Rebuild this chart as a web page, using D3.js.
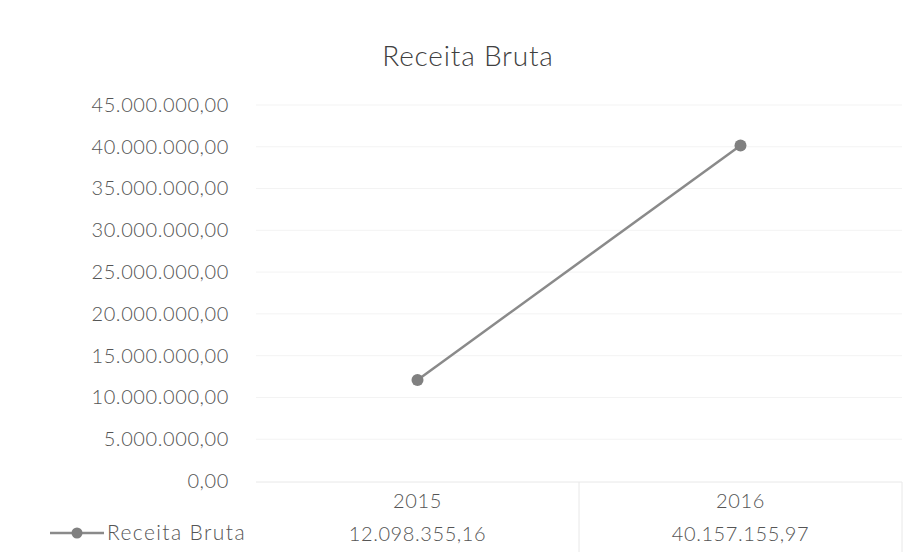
<!DOCTYPE html>
<html lang="pt">
<head>
    <meta charset="UTF-8">
    <title>Receita Bruta</title>
    <script src="https://cdn.jsdelivr.net/npm/d3@7"></script>
    <style>
        body { margin: 0; background: #fff; }
        text { font-family: Lato, "Open Sans", sans-serif; font-weight: 300; fill: #555; }
    </style>
</head>
<body>
    <script>
        // data
        var categories = ['2015', '2016'];
        var receitaBruta = [12098355.16, 40157155.97];
        var yTicks = [0, 5000000, 10000000, 15000000, 20000000, 25000000, 30000000, 35000000, 40000000, 45000000];
        var seriesName = 'Receita Bruta';
        var title = 'Receita Bruta';

        var w = 923;
        var h = 560;
        var plotLeft = 256, plotRight = 902, plotTop = 105, plotBottom = 481;

        // pt-BR style number: 12.098.355,16
        var fmt = d3.formatLocale({decimal: ',', thousands: '.', grouping: [3], currency: ['R$', '']}).format(',.2f');

        var xScale = d3.scaleBand()
                        .domain(categories)
                        .range([plotLeft, plotRight]);

        var yScale = d3.scaleLinear()
                        .domain([0, 45000000])
                        .range([plotBottom, plotTop]);

        var svg = d3.select('body')
                    .append('svg')
                    .attr('width', w)
                    .attr('height', h);

        // title
        svg.append('text')
            .attr('x', 468)
            .attr('y', 66)
            .attr('text-anchor', 'middle')
            .style('font-size', '28px')
            .style('letter-spacing', '0.8px')
            .style('fill', '#404040')
            .text(title);

        // faint gridlines
        svg.append('g')
            .selectAll('line')
            .data(yTicks.slice(1))
            .enter()
            .append('line')
            .attr('x1', plotLeft)
            .attr('x2', plotRight)
            .attr('y1', function(d) { return yScale(d); })
            .attr('y2', function(d) { return yScale(d); })
            .attr('stroke', '#f3f3f3')
            .attr('stroke-width', 1);

        // y axis (labels only)
        var yAxis = d3.axisLeft(yScale)
                        .tickValues(yTicks)
                        .tickFormat(fmt)
                        .tickSize(0)
                        .tickPadding(0);

        svg.append('g')
            .attr('class', 'y axis')
            .attr('transform', 'translate(229,0)')
            .call(yAxis)
            .call(function(g) { g.select('.domain').remove(); })
            .selectAll('text')
            .style('font-size', '20px')
            .style('letter-spacing', '0.6px')
            .style('font-family', 'Lato, "Open Sans", sans-serif')
            .style('fill', '#555');

        // data table borders
        var table = svg.append('g').attr('class', 'table');
        table.append('line')
            .attr('x1', plotLeft).attr('x2', plotRight)
            .attr('y1', plotBottom + 1).attr('y2', plotBottom + 1)
            .attr('stroke', '#e8e8e8');
        table.selectAll('.vline')
            .data(categories)
            .enter()
            .append('line')
            .attr('class', 'vline')
            .attr('x1', function(d) { return xScale(d) + xScale.bandwidth(); })
            .attr('x2', function(d) { return xScale(d) + xScale.bandwidth(); })
            .attr('y1', plotBottom + 1)
            .attr('y2', 552)
            .attr('stroke', '#e8e8e8');

        // category labels row
        table.selectAll('.cat')
            .data(categories)
            .enter()
            .append('text')
            .attr('class', 'cat')
            .attr('x', function(d) { return xScale(d) + xScale.bandwidth() / 2; })
            .attr('y', 508)
            .attr('text-anchor', 'middle')
            .style('font-size', '20px')
            .style('letter-spacing', '0.6px')
            .text(function(d) { return d; });

        // values row
        table.selectAll('.val')
            .data(receitaBruta)
            .enter()
            .append('text')
            .attr('class', 'val')
            .attr('x', function(d, i) { return xScale(categories[i]) + xScale.bandwidth() / 2; })
            .attr('y', 541)
            .attr('text-anchor', 'middle')
            .style('font-size', '20px')
            .style('letter-spacing', '0.6px')
            .text(function(d) { return fmt(d); });

        // legend key inside table
        var legend = svg.append('g').attr('transform', 'translate(0,533)');
        legend.append('line')
            .attr('x1', 50).attr('x2', 104)
            .attr('y1', 0).attr('y2', 0)
            .attr('stroke', '#8a8a8a')
            .attr('stroke-width', 2.5);
        legend.append('circle')
            .attr('cx', 77).attr('cy', 0).attr('r', 5.5)
            .attr('fill', '#808080');
        legend.append('text')
            .attr('x', 107)
            .attr('y', 7)
            .style('font-size', '21px')
            .style('letter-spacing', '1.4px')
            .text(seriesName);

        // line
        var line = d3.line()
                    .x(function(d, i) { return xScale(categories[i]) + xScale.bandwidth() / 2; })
                    .y(function(d) { return yScale(d); });

        svg.append('path')
            .datum(receitaBruta)
            .attr('d', line)
            .attr('fill', 'none')
            .attr('stroke', '#8a8a8a')
            .attr('stroke-width', 2.5);

        svg.append('g')
            .selectAll('circle')
            .data(receitaBruta)
            .enter()
            .append('circle')
            .attr('cx', function(d, i) { return xScale(categories[i]) + xScale.bandwidth() / 2; })
            .attr('cy', function(d) { return yScale(d); })
            .attr('r', 6)
            .attr('fill', '#808080');
    </script>
</body>
</html>
